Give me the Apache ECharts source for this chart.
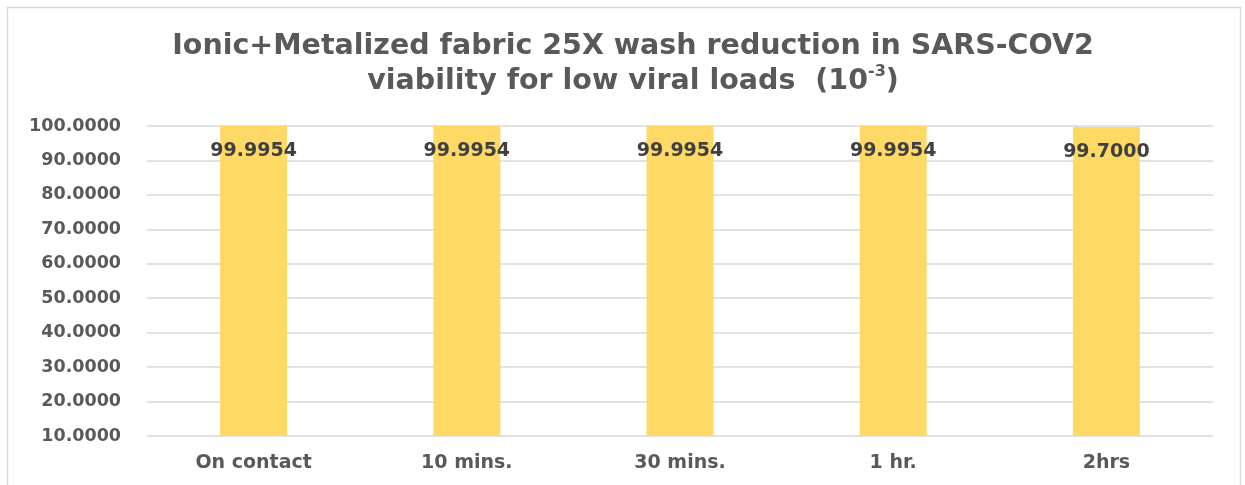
<!DOCTYPE html>
<html lang="en">
<head>
    <meta charset="UTF-8">
    <title>SARS-COV2 viability</title>
    <script type="text/javascript" src="https://cdn.jsdelivr.net/npm/echarts@6/dist/echarts.min.js"></script>
    <style>
        html, body { margin: 0; padding: 0; background: #fff; }
        #main { width: 1245px; height: 485px; }
    </style>
</head>
<body>
<div id="main"></div>
<script type="text/javascript">
    // categories and values
    var categories = ['On contact', '10 mins.', '30 mins.', '1 hr.', '2hrs'];
    var reduction = [99.9954, 99.9954, 99.9954, 99.9954, 99.7000];

    var myChart = echarts.init(document.getElementById('main'));

    myChart.setOption({
        animation: false,
        backgroundColor: '#ffffff',
        graphic: [{
            type: 'rect',
            left: 5, top: 5,
            shape: { width: 1233, height: 480 },
            style: { fill: 'none', stroke: '#d9d9d9', lineWidth: 1.5 },
            silent: true
        }],
        title: {
            text: 'Ionic+Metalized fabric 25X wash reduction in SARS-COV2\nviability for low viral loads  (10{sup|-3})',
            left: 628,
            textAlign: 'center',
            top: 24,
            textStyle: {
                fontFamily: 'DejaVu Sans',
                fontWeight: 'bold',
                fontSize: 28.5,
                color: '#595959',
                lineHeight: 35,
                rich: {
                    sup: {
                        fontFamily: 'DejaVu Sans',
                        fontWeight: 'bold',
                        fontSize: 16,
                        color: '#595959',
                        verticalAlign: 'top',
                        padding: [0, 0, 12, 0]
                    }
                }
            }
        },
        grid: {
            left: 147,
            right: 32,
            top: 126,
            bottom: 49,
            containLabel: false
        },
        xAxis: {
            type: 'category',
            data: categories,
            axisLine: { show: false },
            axisTick: { show: false },
            axisLabel: {
                margin: 18,
                fontFamily: 'DejaVu Sans',
                fontWeight: 'bold',
                fontSize: 19,
                color: '#595959'
            }
        },
        yAxis: {
            type: 'value',
            min: 10,
            max: 100,
            interval: 10,
            axisLine: { show: false },
            axisTick: { show: false },
            axisLabel: {
                margin: 26,
                fontFamily: 'DejaVu Sans',
                fontWeight: 'bold',
                fontSize: 17.5,
                color: '#595959',
                formatter: function (v) { return v.toFixed(4); }
            },
            splitLine: { lineStyle: { color: '#d9d9d9', width: 1.5 } }
        },
        series: [{
            name: 'reduction',
            type: 'bar',
            data: reduction,
            barWidth: 67,
            itemStyle: { color: '#ffd966' },
            label: {
                show: true,
                position: 'insideTop',
                offset: [0, 11],
                fontFamily: 'DejaVu Sans',
                fontWeight: 'bold',
                fontSize: 19,
                color: '#404040',
                formatter: function (p) { return p.value.toFixed(4); }
            }
        }]
    });
</script>
</body>
</html>
